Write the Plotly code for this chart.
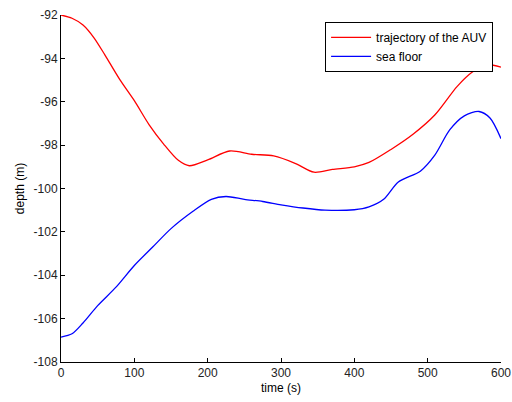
import plotly.graph_objects as go

t_auv = [0, 15, 30, 45, 60, 80, 100, 120, 140, 160, 175, 200, 230, 260, 290, 320, 345, 370, 400, 420, 450, 480, 510, 540, 560, 580, 600]
d_auv = [-92.0, -92.15, -92.46, -93.05, -93.85, -94.97, -95.95, -97.05, -97.95, -98.7, -98.95, -98.68, -98.27, -98.42, -98.5, -98.85, -99.25, -99.12, -99.0, -98.8, -98.2, -97.5, -96.6, -95.3, -94.65, -94.3, -94.4]

t_sea = [0, 15, 30, 50, 75, 100, 125, 150, 180, 205, 225, 250, 275, 300, 330, 360, 400, 420, 440, 460, 490, 510, 530, 550, 570, 585, 600]
d_sea = [-106.85, -106.7, -106.2, -105.4, -104.55, -103.55, -102.7, -101.85, -101.05, -100.5, -100.37, -100.5, -100.6, -100.75, -100.9, -101.0, -100.98, -100.85, -100.5, -99.7, -99.2, -98.45, -97.3, -96.65, -96.45, -96.75, -97.7]

x_ticks = [0, 100, 200, 300, 400, 500, 600]
y_ticks = [-108, -106, -104, -102, -100, -98, -96, -94, -92]

fig = go.Figure()
fig.add_trace(go.Scatter(x=t_auv, y=d_auv, mode="lines", name="trajectory of the AUV",
                         line=dict(color="#ff0000", width=1.3, shape="spline", smoothing=0.8)))
fig.add_trace(go.Scatter(x=t_sea, y=d_sea, mode="lines", name="sea floor",
                         line=dict(color="#0000ff", width=1.3, shape="spline", smoothing=0.8)))

axis_common = dict(showgrid=False, zeroline=False, showline=True, linecolor="#000000", linewidth=1,
                   ticks="inside", ticklen=4, tickcolor="#000000", automargin=False,
                   tickfont=dict(family="Liberation Sans, Arial", size=12, color="#222222"))

fig.update_layout(
    width=512, height=402,
    margin=dict(l=61, r=11, t=15, b=40),
    paper_bgcolor="white", plot_bgcolor="white",
    font=dict(family="Liberation Sans, Arial", size=12, color="#000000"),
    xaxis=dict(range=[0, 600], tickvals=x_ticks, ticktext=[str(v) for v in x_ticks],
               title=dict(text="time (s)", standoff=4, font=dict(size=12)), **axis_common),
    yaxis=dict(range=[-108, -92], tickvals=y_ticks, ticktext=[str(v) for v in y_ticks],
               title=dict(text="depth (m)", standoff=6, font=dict(size=12)), **axis_common),
    legend=dict(x=0.982, y=0.98, xanchor="right", yanchor="top", bgcolor="white",
                bordercolor="#000000", borderwidth=1, font=dict(size=12),
                tracegroupgap=0, itemwidth=40),
    showlegend=True,
)

fig.write_html("out.html", config={"displayModeBar": False},
               post_script="document.body.style.margin='0';document.body.style.padding='0';")
